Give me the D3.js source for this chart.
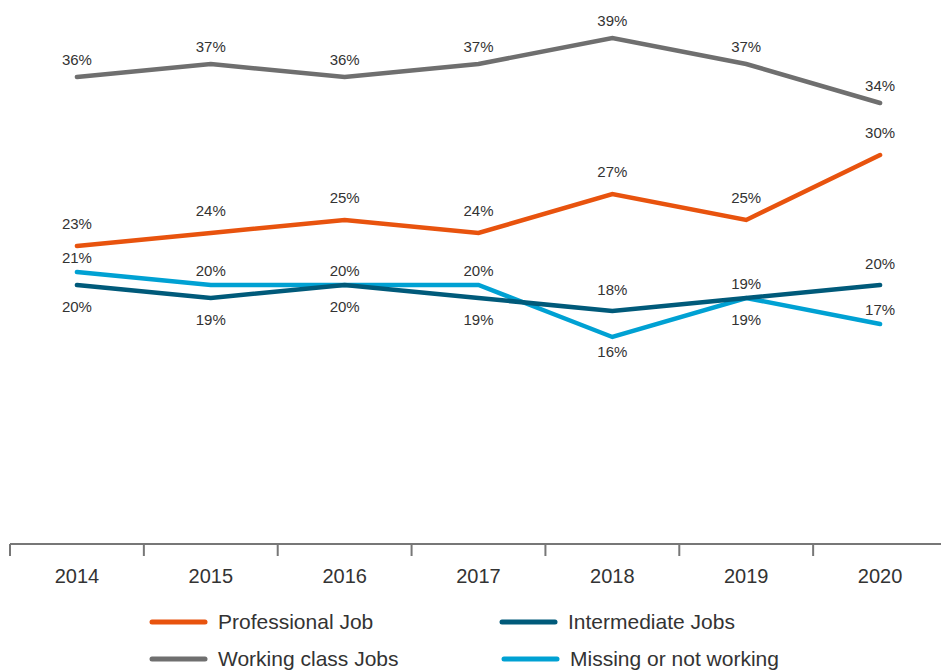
<!DOCTYPE html>
<html lang="en">
<head>
<meta charset="UTF-8">
<title>Jobs by year</title>
<script src="https://d3js.org/d3.v7.min.js"></script>
<style>
  body { margin: 0; background: #fff; }
  text { font-family: "Liberation Sans", Arial, sans-serif; fill: #333; }
</style>
</head>
<body>
<div id="chart"></div>
<script>
const years = ["2014", "2015", "2016", "2017", "2018", "2019", "2020"];
const professional = [23, 24, 25, 24, 27, 25, 30];
const intermediate = [20, 19, 20, 19, 18, 19, 20];
const working = [36, 37, 36, 37, 39, 37, 34];
const missing = [21, 20, 20, 20, 16, 19, 17];
// where each value label sits relative to its point
const intermediateLabelPos = ["below", "below", "below", "below", "above", "below", "above"];
const missingLabelPos = ["above", "above", "above", "above", "below", "above", "above"];

const width = 941, height = 670;

const svg = d3.select("#chart").append("svg")
  .attr("width", width)
  .attr("height", height);

const x = d3.scaleBand().domain(years).range([10, 947]).padding(0);
const y = d3.scaleLinear().domain([0, 40]).range([545, 25]);

const series = [
  { name: "Working class Jobs", values: working, color: "#6f6f6f", pos: years.map(() => "above"), up: -17, down: 22 },
  { name: "Professional Job", values: professional, color: "#e8530e", pos: years.map(() => "above"), up: -22, down: 22 },
  { name: "Missing or not working", values: missing, color: "#00a1d3", pos: missingLabelPos, up: -14, down: 15 },
  { name: "Intermediate Jobs", values: intermediate, color: "#005a7a", pos: intermediateLabelPos, up: -21, down: 22 }
];

// x axis
const axisG = svg.append("g").attr("transform", "translate(0,544)");
axisG.append("line")
  .attr("x1", 10).attr("x2", width)
  .attr("stroke", "#777").attr("stroke-width", 2);
axisG.selectAll("line.tick")
  .data(years)
  .enter().append("line")
  .attr("class", "tick")
  .attr("x1", d => x(d)).attr("x2", d => x(d))
  .attr("y1", 0).attr("y2", 12)
  .attr("stroke", "#777").attr("stroke-width", 2);
axisG.selectAll("text")
  .data(years)
  .enter().append("text")
  .attr("x", d => x(d) + x.bandwidth() / 2)
  .attr("y", 39)
  .attr("text-anchor", "middle")
  .style("font-size", "20px")
  .text(d => d);

const line = d3.line()
  .x((d, i) => x(years[i]) + x.bandwidth() / 2)
  .y(d => y(d));

series.forEach(s => {
  svg.append("path")
    .datum(s.values)
    .attr("fill", "none")
    .attr("stroke", s.color)
    .attr("stroke-width", 4.5)
    .attr("stroke-linejoin", "miter")
    .attr("stroke-linecap", "round")
    .attr("d", line);
});

series.forEach(s => {
  svg.append("g").selectAll("text")
    .data(s.values)
    .enter().append("text")
    .attr("x", (d, i) => x(years[i]) + x.bandwidth() / 2)
    .attr("y", (d, i) => y(d) + (s.pos[i] === "above" ? s.up : s.down))
    .attr("dy", "0.35em")
    .attr("text-anchor", "middle")
    .style("font-size", "15px")
    .text(d => d + "%");
});

// legend
const legendItems = [
  { s: series[1], x: 150, y: 622 },
  { s: series[3], x: 500, y: 622 },
  { s: series[0], x: 150, y: 659 },
  { s: series[2], x: 502, y: 659 }
];
const legend = svg.append("g");
legendItems.forEach(it => {
  legend.append("line")
    .attr("x1", it.x + 2).attr("x2", it.x + 55)
    .attr("y1", it.y).attr("y2", it.y)
    .attr("stroke", it.s.color)
    .attr("stroke-width", 5)
    .attr("stroke-linecap", "round");
  legend.append("text")
    .attr("x", it.x + 68)
    .attr("y", it.y)
    .attr("dy", "0.35em")
    .style("font-size", "21px")
    .text(it.s.name);
});
</script>
</body>
</html>
